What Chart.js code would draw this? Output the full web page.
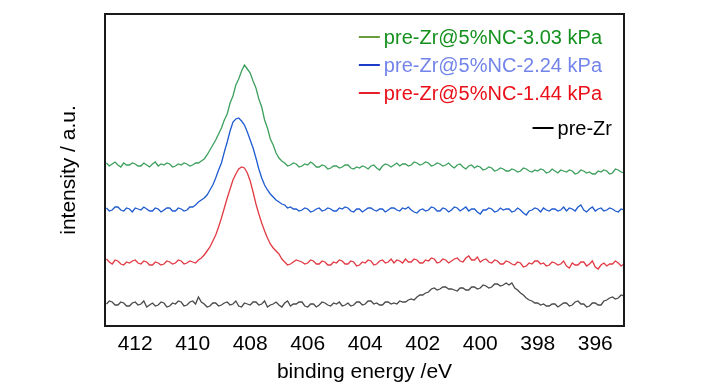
<!DOCTYPE html>
<html>
<head>
<meta charset="utf-8">
<script src="https://cdn.jsdelivr.net/npm/chart.js@4"></script>
<style>
  html, body { margin: 0; padding: 0; background: #fff; }
  #wrap { width: 728px; height: 390px; }
</style>
</head>
<body>
<div id="wrap"><canvas id="xps_chart" width="728" height="390"></canvas></div>
<script>
// binding energies, 413.0 -> 395.0 eV, 0.1 eV step
const energyStart = 413.0;
const energyStep = 0.1;
const xTicks = [412, 410, 408, 406, 404, 402, 400, 398, 396];

// intensities (arbitrary units, already offset per curve)
// one row = 2 eV
const green303 = [
  163, 160, 162, 164, 161, 159, 163, 161, 161, 163, 162, 160, 160, 163, 161, 159, 162, 164, 160, 162,
  161, 163, 162, 159, 160, 162, 161, 163, 162, 160, 161, 163, 163, 165, 167, 171, 176, 181, 186, 192,
  198, 206, 212, 223, 230, 241, 247, 255, 261, 257, 253, 245, 238, 227, 219, 206, 198, 187, 181, 173,
  168, 165, 163, 160, 161, 163, 162, 159, 160, 162, 161, 164, 162, 159, 159, 161, 160, 157, 158, 160,
  160, 158, 159, 161, 161, 158, 157, 159, 158, 160, 159, 157, 160, 161, 158, 156, 160, 162, 161, 159,
  161, 163, 160, 162, 162, 160, 161, 164, 163, 161, 162, 164, 163, 160, 161, 163, 162, 160, 161, 163,
  160, 158, 161, 162, 159, 157, 160, 161, 158, 160, 159, 156, 157, 159, 158, 155, 156, 158, 157, 155,
  155, 157, 156, 154, 155, 158, 157, 155, 154, 156, 155, 157, 156, 153, 154, 157, 155, 153, 156, 155,
  154, 156, 155, 152, 153, 156, 155, 153, 154, 152, 152, 155, 154, 156, 155, 152, 153, 157, 156, 154,
  153
];
const blue224 = [
  118, 115, 116, 119, 119, 116, 115, 118, 117, 114, 118, 117, 116, 119, 117, 115, 115, 118, 117, 114,
  116, 118, 118, 115, 115, 118, 117, 115, 116, 119, 119, 121, 124, 126, 128, 131, 136, 141, 148, 156,
  163, 174, 184, 195, 204, 207, 208, 205, 201, 194, 186, 178, 168, 157, 148, 141, 136, 132, 129, 126,
  124, 122, 121, 118, 119, 117, 117, 115, 116, 118, 117, 114, 115, 117, 118, 115, 116, 118, 117, 115,
  115, 118, 117, 119, 118, 115, 114, 117, 117, 114, 116, 118, 118, 116, 115, 117, 117, 114, 116, 118,
  118, 116, 115, 118, 117, 119, 116, 114, 113, 116, 117, 115, 116, 119, 118, 115, 115, 118, 117, 114,
  116, 119, 118, 115, 117, 119, 115, 117, 117, 114, 112, 116, 116, 118, 117, 114, 115, 118, 116, 117,
  117, 114, 115, 118, 116, 113, 111, 115, 116, 118, 117, 114, 118, 116, 115, 117, 117, 115, 116, 119,
  115, 118, 117, 115, 119, 121, 116, 114, 117, 119, 115, 117, 118, 115, 116, 118, 117, 115, 114, 117,
  116
];
const red144 = [
  67, 64, 62, 66, 65, 62, 61, 64, 63, 65, 66, 63, 62, 65, 64, 61, 61, 64, 63, 61,
  62, 65, 64, 62, 63, 66, 65, 62, 63, 65, 64, 63, 66, 68, 71, 75, 79, 85, 91, 99,
  108, 118, 128, 137, 146, 152, 157, 159, 158, 153, 145, 134, 122, 112, 103, 95, 88, 82, 78, 75,
  72, 67, 64, 61, 62, 64, 66, 65, 64, 62, 63, 66, 65, 62, 62, 65, 64, 61, 61, 64,
  63, 66, 65, 62, 62, 65, 64, 60, 61, 64, 63, 66, 65, 61, 62, 65, 66, 63, 64, 67,
  63, 66, 65, 63, 67, 64, 64, 67, 66, 63, 63, 66, 65, 68, 67, 63, 64, 67, 66, 63,
  65, 67, 68, 65, 64, 68, 70, 66, 66, 69, 64, 66, 67, 64, 63, 66, 65, 62, 62, 65,
  64, 62, 61, 64, 63, 59, 60, 63, 62, 65, 65, 62, 63, 60, 61, 64, 63, 61, 62, 65,
  60, 58, 63, 61, 61, 64, 64, 60, 62, 65, 59, 57, 61, 63, 60, 62, 62, 65, 63, 60,
  62
];
const preZr = [
  22, 25, 24, 21, 21, 24, 23, 20, 20, 23, 24, 21, 22, 25, 19, 21, 23, 20, 21, 24,
  23, 19, 20, 23, 22, 25, 24, 20, 21, 24, 25, 22, 29, 24, 22, 19, 20, 23, 23, 20,
  21, 23, 24, 21, 22, 25, 20, 19, 23, 22, 21, 24, 24, 21, 22, 25, 19, 21, 22, 24,
  21, 19, 23, 25, 20, 22, 22, 24, 24, 20, 19, 22, 22, 19, 21, 24, 23, 21, 20, 23,
  22, 24, 20, 21, 23, 20, 21, 24, 24, 21, 22, 25, 25, 22, 23, 21, 21, 24, 24, 22,
  23, 22, 25, 24, 24, 26, 27, 26, 29, 31, 31, 33, 34, 37, 38, 36, 37, 39, 39, 37,
  37, 36, 35, 38, 38, 36, 36, 39, 39, 37, 38, 41, 40, 38, 39, 42, 42, 40, 41, 43,
  41, 43, 38, 36, 33, 31, 28, 26, 25, 23, 23, 21, 22, 20, 20, 22, 22, 19, 21, 23,
  23, 20, 21, 24, 25, 22, 22, 19, 20, 23, 23, 21, 21, 25, 26, 28, 29, 27, 28, 31,
  30
];

const seriesLabels = ['pre-Zr@5%NC-3.03 kPa', 'pre-Zr@5%NC-2.24 kPa', 'pre-Zr@5%NC-1.44 kPa', 'pre-Zr'];
const seriesColors = ['#3c9f5c', '#1f5bd0', '#e23a44', '#4a4a4a'];
const legendLineColors = ['#6a9e3c', '#1a3cc8', '#e8202a', '#000000'];
const legendTextColors = ['#15911e', '#7384ea', '#ea0f18', '#000000'];

function buildPoints(values) {
  return values.map((v, i) => ({ x: +(energyStart - energyStep * i).toFixed(1), y: v }));
}

const allSeries = [green303, blue224, red144, preZr];

// box round the plot
const frameBox = {
  id: 'frameBox',
  afterDraw(chart) {
    const { ctx, chartArea } = chart;
    ctx.save();
    ctx.strokeStyle = '#1a1a1a';
    ctx.lineWidth = 2;
    ctx.strokeRect(chartArea.left, chartArea.top, chartArea.right - chartArea.left, chartArea.bottom - chartArea.top);
    ctx.restore();
  }
};

// legend inside the plot, right aligned like the original
const insideLegend = {
  id: 'insideLegend',
  afterDraw(chart) {
    const ctx = chart.ctx;
    const baselines = [44, 72, 100, 135];
    const rightEdges = [602, 602, 602, 612];
    ctx.save();
    ctx.font = '20px "Liberation Sans", Arial, sans-serif';
    ctx.textAlign = 'right';
    ctx.textBaseline = 'alphabetic';
    chart.data.datasets.forEach((ds, i) => {
      const w = ctx.measureText(ds.label).width;
      const textLeft = rightEdges[i] - w;
      ctx.fillStyle = legendTextColors[i];
      ctx.fillText(ds.label, rightEdges[i], baselines[i]);
      ctx.strokeStyle = legendLineColors[i];
      ctx.lineWidth = 2;
      ctx.beginPath();
      ctx.moveTo(textLeft - 25, baselines[i] - 7);
      ctx.lineTo(textLeft - 4, baselines[i] - 7);
      ctx.stroke();
    });
    ctx.restore();
  }
};

Chart.defaults.font.family = '"Liberation Sans", Arial, sans-serif';
Chart.defaults.color = '#000';

new Chart(document.getElementById('xps_chart'), {
  type: 'line',
  data: {
    datasets: allSeries.map((vals, i) => ({
      label: seriesLabels[i],
      data: buildPoints(vals),
      borderColor: seriesColors[i],
      borderWidth: 1.3,
      pointRadius: 0,
      tension: 0,
      fill: false
    }))
  },
  options: {
    responsive: false,
    animation: false,
    layout: { padding: { left: 55, top: 14, right: 104, bottom: 0 } },
    plugins: {
      legend: { display: false },
      tooltip: { enabled: false }
    },
    scales: {
      x: {
        type: 'linear',
        reverse: true,
        min: 395.0,
        max: 413.05,
        afterBuildTicks: (scale) => { scale.ticks = xTicks.map(v => ({ value: v })); },
        afterFit: (scale) => { scale.height = 64; },
        grid: { display: false, drawTicks: false },
        border: { display: false },
        ticks: { font: { size: 21 }, padding: 6, maxRotation: 0, autoSkip: false },
        title: { display: true, text: 'binding energy /eV', font: { size: 21 }, padding: { top: 0, bottom: 5 } }
      },
      y: {
        min: 0,
        max: 312,
        afterFit: (scale) => { scale.width = 50; },
        grid: { display: false, drawTicks: false },
        border: { display: false },
        ticks: { display: false },
        title: { display: true, text: 'intensity / a.u.', font: { size: 21 }, padding: { top: 2, bottom: 0 } }
      }
    }
  },
  plugins: [frameBox, insideLegend]
});
</script>
</body>
</html>
